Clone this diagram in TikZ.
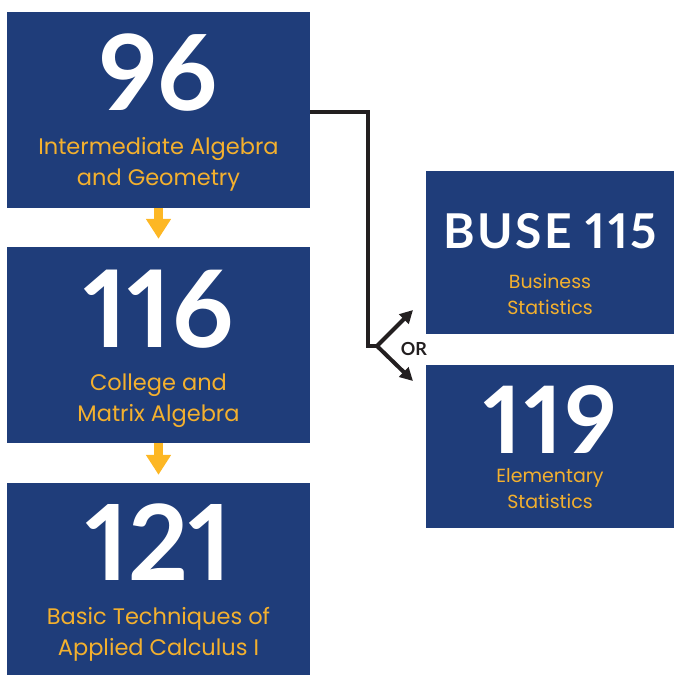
\documentclass[tikz,border=0pt]{standalone}
\usepackage{fontspec}
\setmainfont{Lato}
\newfontfamily\subfont{Poppins}
\usetikzlibrary{arrows.meta}
\definecolor{navy}{RGB}{31,61,122}
\definecolor{gold}{RGB}{243,176,46}
\definecolor{arrowgold}{RGB}{253,183,36}
\definecolor{ink}{RGB}{35,31,32}

\begin{document}
\begin{tikzpicture}[x=1pt,y=-1pt]
\tikzstyle{every node}+=[inner sep=0pt]
\tikzstyle{course}=[fill=navy, minimum width=303pt]
\tikzstyle{option}=[fill=navy, minimum width=248pt, minimum height=163pt]
\tikzstyle{num}=[white, anchor=base, font=\bfseries\addfontfeatures{Numbers=Proportional}\fontsize{105}{105}\selectfont]
\tikzstyle{sub}=[gold, anchor=base, align=center, font=\subfont\fontsize{22.5}{31}\selectfont]
\tikzstyle{subsmall}=[gold, anchor=base, align=center, font=\subfont\fontsize{19}{26}\selectfont]
\tikzstyle{down}=[arrowgold, line width=9pt, shorten >=8pt, -{Triangle[length=20pt,width=24pt]}]
\tikzstyle{path}=[ink, line width=4pt, line join=miter]
\useasboundingbox (0,0) rectangle (674,675);
% left column
\node [course, minimum height=196pt] (b96) at (158.5,110) {};
\node [num] (n96) at (158.5,110) {96};
\node [sub] (t96) at (158.5,185) {Intermediate Algebra\\and Geometry};
\node [course, minimum height=196pt] (b116) at (158.5,345) {};
\node [num, font=\bfseries\addfontfeatures{Numbers=Proportional}\fontsize{107}{107}\selectfont] (n116) at (158.5,347) {116};
\node [sub] (t116) at (158.5,421) {College and\\Matrix Algebra};
\node [course, minimum height=192pt] (b121) at (158.5,579) {};
\node [num] (n121) at (158.5,580) {121};
\node [sub] (t121) at (158.5,655) {Basic Techniques of\\Applied Calculus I};
\draw [down] (b96.south) -- (b116.north);
\draw [down] (b116.south) -- (b121.north);
% right column
\node [option] (buse) at (550,252) {};
\node [num, font=\bfseries\addfontfeatures{Numbers=Proportional,LetterSpace=5}\fontsize{48}{48}\selectfont] (nbuse) at (550,248) {BUSE 115};
\node [subsmall] (tbuse) at (550,314) {Business\\Statistics};
\node [option] (b119) at (550,446.5) {};
\node [num, font=\bfseries\addfontfeatures{Numbers=Proportional,LetterSpace=3}\fontsize{93}{93}\selectfont] (n119) at (550,453) {119};
\node [subsmall] (t119) at (550,508) {Elementary\\Statistics};
% or branch
\coordinate (split) at (377,346);
\coordinate (tobuse) at (413,310);
\coordinate (to119) at (413,381);
\draw [path] (b96.east |- 0,112) -- (368,112) -- (368,346) -- (split);
\draw [path, -{Triangle[length=13pt,width=13pt]}] (split) -- (tobuse);
\draw [path, -{Triangle[length=13pt,width=13pt]}] (split) -- (to119);
\node [ink, font=\bfseries\fontsize{18}{18}\selectfont] (or) at (414,349) {OR};
\end{tikzpicture}
\end{document}
